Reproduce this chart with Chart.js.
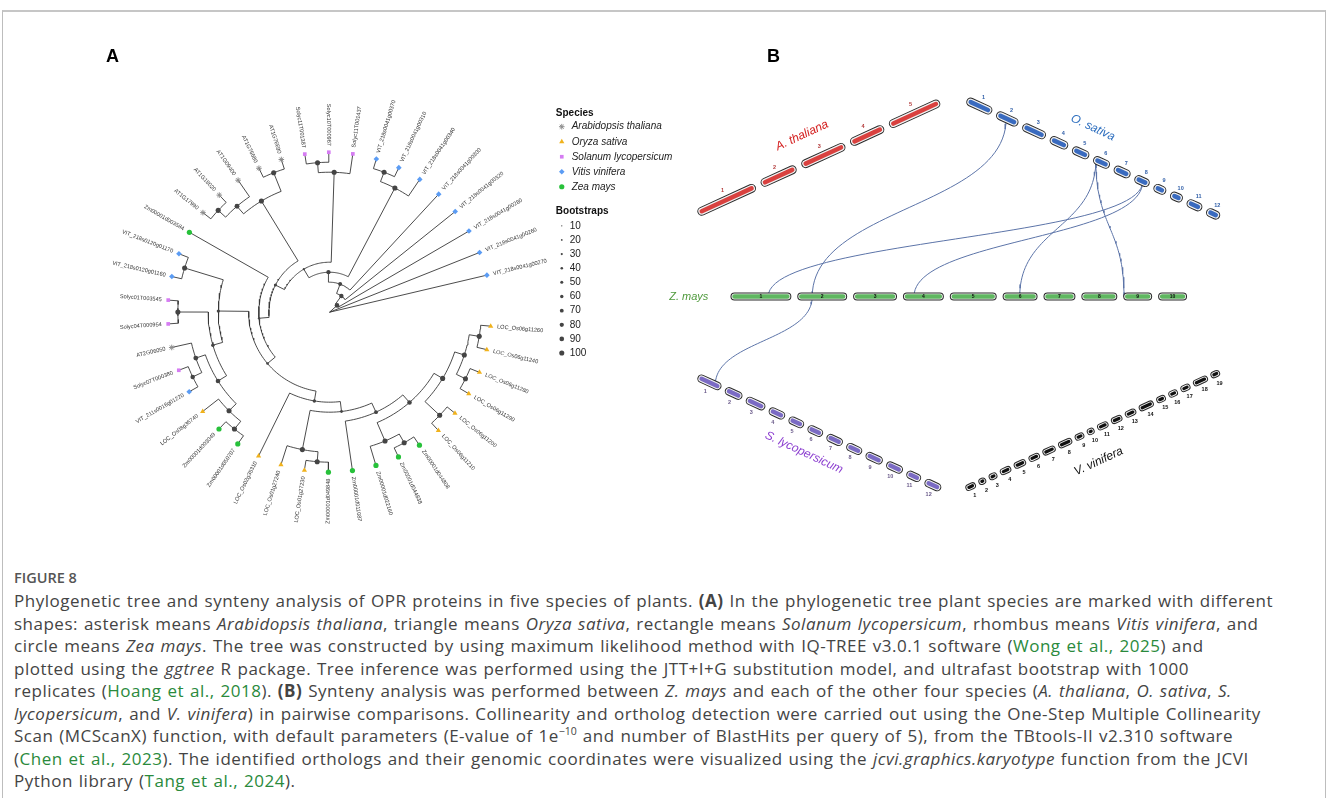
<!DOCTYPE html>
<html>
<head>
<meta charset="utf-8">
<title>Figure 8</title>
<script src="https://cdn.jsdelivr.net/npm/chart.js@4.4.1/dist/chart.umd.min.js"></script>
<style>
  html, body { margin: 0; padding: 0; background: #fff; }
  body { width: 1328px; height: 798px; position: relative; overflow: hidden; font-family: "Open Sans", sans-serif; }
  .frame { position: absolute; left: 2px; top: 10px; width: 1324px; height: 900px; box-sizing: border-box;
           border: 1px solid #bdbdbd; border-top: 2px solid #c6c6c6; }
  #fig { position: absolute; left: 0; top: 0; }
  .panel { position: absolute; font: bold 18px "Liberation Sans", Arial, sans-serif; line-height: 18px; color: #000; }
  .caption { position: absolute; left: 14px; top: 566px; color: #444; }
  .fig-no { font-size: 14.5px; font-weight: 600; line-height: 24px; color: #555; }
  .cap-text { font-size: 17px; line-height: 22.5px; letter-spacing: 0.5px; word-spacing: 1px; white-space: nowrap; }
  .cap-text a { color: #2a8a3c; text-decoration: none; }
  .cap-text b { font-weight: 700; }
  .cap-text sup { font-size: 10.5px; line-height: 0; letter-spacing: 0; }
</style>
</head>
<body>
<div class="frame"></div>
<canvas id="fig" width="1328" height="540"></canvas>
<div class="panel" style="left:106px; top:47px;">A</div>
<div class="panel" style="left:767px; top:47px;">B</div>
<div class="caption">
  <div class="fig-no">FIGURE 8</div>
  <div class="cap-text">
    Phylogenetic tree and synteny analysis of OPR proteins in five species of plants. <b>(A)</b> In the phylogenetic tree plant species are marked with different<br>
    shapes: asterisk means <i>Arabidopsis thaliana</i>, triangle means <i>Oryza sativa</i>, rectangle means <i>Solanum lycopersicum</i>, rhombus means <i>Vitis vinifera</i>, and<br>
    circle means <i>Zea mays</i>. The tree was constructed by using maximum likelihood method with IQ-TREE v3.0.1 software (<a>Wong et al., 2025</a>) and<br>
    plotted using the <i>ggtree</i> R package. Tree inference was performed using the JTT+I+G substitution model, and ultrafast bootstrap with 1000<br>
    replicates (<a>Hoang et al., 2018</a>). <b>(B)</b> Synteny analysis was performed between <i>Z. mays</i> and each of the other four species (<i>A. thaliana</i>, <i>O. sativa</i>, <i>S.</i><br>
    <i>lycopersicum</i>, and <i>V. vinifera</i>) in pairwise comparisons. Collinearity and ortholog detection were carried out using the One-Step Multiple Collinearity<br>
    Scan (MCScanX) function, with default parameters (E-value of 1e<sup>−10</sup> and number of BlastHits per query of 5), from the TBtools-II v2.310 software<br>
    (<a>Chen et al., 2023</a>). The identified orthologs and their genomic coordinates were visualized using the <i>jcvi.graphics.karyotype</i> function from the JCVI<br>
    Python library (<a>Tang et al., 2024</a>).
  </div>
</div>

<script>
// --- Tree tips, in circular order (counter-clockwise from the right) ---
const tipNames = [
  'VIT_218s0041g00270', 'VIT_218s0041g00260', 'VIT_218s0041g00280', 'VIT_218s0041g00320', 'VIT_218s0041g00300',
  'VIT_218s0041g00340', 'VIT_218s0041g00310', 'VIT_218s0041g00370',
  'Solyc11T001437', 'Solyc10T000967', 'Solyc11T001387',
  'AT1G76690', 'AT1G76680', 'AT1G09400', 'AT1G18020', 'AT1G17990',
  'Zm00001d003584',
  'VIT_218s0120g01170', 'VIT_218s0120g01160',
  'Solyc01T003545', 'Solyc04T000954',
  'AT2G06050', 'Solyc07T000380', 'VIT_211s0016g01220',
  'LOC_Os08g35740', 'Zm00001d003049', 'Zm00001d050707',
  'LOC_Os02g35310', 'LOC_Os01g27240', 'LOC_Os01g27230', 'Zm00001d049848', 'Zm00001d011087',
  'Zm00001d022160', 'Zm00001d044838', 'Zm00001d044808',
  'LOC_Os06g11210', 'LOC_Os06g11200', 'LOC_Os06g11290', 'LOC_Os06g11280', 'LOC_Os06g11240', 'LOC_Os06g11260'
];
const tipSpecies = [
  'V', 'V', 'V', 'V', 'V', 'V', 'V', 'V',
  'S', 'S', 'S',
  'A', 'A', 'A', 'A', 'A',
  'Z',
  'V', 'V',
  'S', 'S',
  'A', 'S', 'V',
  'O', 'Z', 'Z',
  'O', 'O', 'O', 'Z', 'Z',
  'Z', 'Z', 'Z',
  'O', 'O', 'O', 'O', 'O', 'O'
];

// internal nodes: [id, children (tip index or node id), depth level (root 0, tips 16), bootstrap]
const treeNodes = [
  ['s1', [9, 10], 15, 100],
  ['s2', [8, 's1'], 14, 100],
  ['v1', [6, 7], 15, 98],
  ['v2', [5, 'v1'], 14, 100],
  ['t1', [11, 12], 15, 100],
  ['t2', [14, 15], 15, 100],
  ['t3', [13, 't2'], 14, 96],
  ['t4', ['t1', 't3'], 13, 100],
  ['u1', [17, 18], 15, 100],
  ['u2', [19, 20], 15, 100],
  ['u3', [22, 23], 15, 86],
  ['u4', [21, 'u3'], 14, 95],
  ['u5', [25, 26], 15, 100],
  ['u6', [24, 'u5'], 14, 100],
  ['u7', ['u4', 'u6'], 13, 90],
  ['u8', ['u2', 'u7'], 12, 62],
  ['u9', ['u1', 'u8'], 11, 55],
  ['w1', [29, 30], 15, 100],
  ['w2', [28, 'w1'], 14, 100],
  ['w3', [33, 34], 15, 100],
  ['w4', [32, 'w3'], 14, 100],
  ['w5', [35, 36], 15, 100],
  ['w6', [37, 38], 15, 100],
  ['w7', [39, 40], 15, 100],
  ['w8', ['w6', 'w7'], 14, 100],
  ['w9', ['w5', 'w8'], 13, 100],
  ['w10', ['w4', 'w9'], 12, 88],
  ['w11', [31, 'w10'], 11, 70],
  ['w12', ['w2', 'w11'], 10, 45],
  ['w13', [27, 'w12'], 9, 60],
  ['r8', ['u9', 'w13'], 8, 40],
  ['r7', [16, 'r8'], 7, 35],
  ['r6', ['t4', 'r7'], 6, 52],
  ['r5', ['s2', 'r6'], 5, 30],
  ['r4', ['v2', 'r5'], 4, 80],
  ['r3', [4, 'r4'], 3, 75],
  ['r2', [3, 'r3'], 2, 85],
  ['r1', [2, 'r2'], 1, 90],
  ['root', [0, 1, 'r1'], 0, 0]
];

const speciesCodes = ['A', 'O', 'S', 'V', 'Z'];
const speciesNames = ['Arabidopsis thaliana', 'Oryza sativa', 'Solanum lycopersicum', 'Vitis vinifera', 'Zea mays'];
const bootstrapBreaks = [10, 20, 30, 40, 50, 60, 70, 80, 90, 100];

// --- Karyotype data: relative chromosome lengths ---
const athChrLengths = [64, 39, 48, 37, 56];
const osaChrLengths = [28, 24, 25.5, 19.7, 18.4, 17.9, 17.9, 16.2, 13.4, 13.4, 16.6, 14.8];
const zmaChrLengths = [61, 50, 44, 41, 47, 35, 32, 36, 29, 29];
const slyChrLengths = [26, 18.8, 21, 17.5, 16.6, 16.6, 17.5, 17, 18.4, 17.9, 15.7, 17.9];
const vviChrLengths = [11, 8, 9, 12, 13, 12, 14, 15, 10, 8, 12, 12, 12, 16, 10, 10, 10.5, 16, 10];

// collinear gene pairs: [genome, chromosome, relative position, genome, chromosome, relative position]
const linkPairs = [
  ['osa', 2, 0.45, 'zma', 2, 0.30],
  ['osa', 8, 0.55, 'zma', 1, 0.62],
  ['osa', 8, 0.55, 'zma', 4, 0.27],
  ['osa', 6, 0.15, 'zma', 6, 0.49],
  ['osa', 6, 0.15, 'zma', 9, 0.03],
  ['zma', 2, 0.30, 'sly', 1, 0.75]
];

// --- layout / style ---
const W = 1328, H = 540;
const TREE_CX = 327, TREE_CY = 313, TIP_R = 163, TREE_LEVELS = 16;
const TIP_START = 13.4, TIP_STEP = 8.54;

const speciesStyle = {
  A: { pointStyle: 'star', color: '#8c8c8c', radius: 2.8 },
  O: { pointStyle: 'triangle', color: '#f0b21c', radius: 3 },
  S: { pointStyle: 'rect', color: '#d57cf2', radius: 2.6 },
  V: { pointStyle: 'rectRot', color: '#5b9cf4', radius: 2.8 },
  Z: { pointStyle: 'circle', color: '#27c13a', radius: 2.6 }
};
const LEG_X = 561, LEG_SP_Y = 124, LEG_SP_STEP = 15.3, LEG_BS_Y = 225, LEG_BS_STEP = 14.4;
const bootRadius = v => 0.45 + v / 100 * 2.1;

const karyoTracks = [
  { key: 'ath', lengths: athChrLengths, from: [698, 212], to: [942, 99], gap: 6, thick: 9, band: 4.6, color: '#d9413f',
    numColor: '#b33a3a', numSide: -1, name: 'A. thaliana', nameAt: [803, 133], nameColor: '#d42020', nameSize: 12 },
  { key: 'osa', lengths: osaChrLengths, from: [969, 97], to: [1224, 216], gap: 5, thick: 9, band: 4.6, color: '#3a6bbf',
    numColor: '#2f5ea8', numSide: -1, name: 'O. sativa', nameAt: [1096, 125], nameColor: '#2e6fbf', nameSize: 12 },
  { key: 'zma', lengths: zmaChrLengths, from: [731, 297], to: [1191, 297], gap: 6, thick: 8, band: 4.4, color: '#5fb760',
    numColor: '#111', numSide: 0, name: 'Z. mays', nameAt: [689, 297], nameColor: '#4f9a3c', nameSize: 11 },
  { key: 'sly', lengths: slyChrLengths, from: [698, 379], to: [943, 493], gap: 4.5, thick: 8.5, band: 4.4, color: '#7b6bc4',
    numColor: '#6a5a8a', numSide: 1, name: 'S. lycopersicum', nameAt: [805, 456], nameColor: '#8c3fd0', nameSize: 12 },
  { key: 'vvi', lengths: vviChrLengths, from: [968, 493], to: [1224, 374], gap: 3.4, thick: 7, band: 3.2, color: '#111',
    numColor: '#111', numSide: 1, name: 'V. vinifera', nameAt: [1102, 465], nameColor: '#111', nameSize: 12 }
];

// --- tree layout (circular cladogram) ---
const tipAngle = tipNames.map((_, i) => TIP_START + i * TIP_STEP);
const nodeAngle = {}, nodeRadius = {};
const childAngle = c => typeof c === 'number' ? tipAngle[c] : nodeAngle[c];
const childRadius = c => typeof c === 'number' ? TIP_R : nodeRadius[c];
treeNodes.forEach(([id, kids, depth]) => {
  nodeAngle[id] = kids.reduce((s, c) => s + childAngle(c), 0) / kids.length;
  nodeRadius[id] = depth / TREE_LEVELS * TIP_R;
});

function polar(deg, r) {
  const a = deg * Math.PI / 180;
  return { x: TREE_CX + r * Math.cos(a), y: TREE_CY - r * Math.sin(a) };
}
const GAP = { x: null, y: null };

const branchPts = [];
treeNodes.forEach(([id, kids]) => {
  const r = nodeRadius[id];
  const angs = kids.map(childAngle);
  const a0 = Math.min(...angs), a1 = Math.max(...angs);
  if (r > 0) {
    const n = Math.max(2, Math.ceil((a1 - a0) / 1.5));
    for (let k = 0; k <= n; k++) branchPts.push(polar(a0 + (a1 - a0) * k / n, r));
    branchPts.push(GAP);
  }
  kids.forEach(c => {
    branchPts.push(polar(childAngle(c), r), polar(childAngle(c), childRadius(c)), GAP);
  });
});

const bootPts = treeNodes.filter(n => n[2] > 0).map(n => polar(nodeAngle[n[0]], nodeRadius[n[0]]));
const bootSizes = treeNodes.filter(n => n[2] > 0).map(n => bootRadius(n[3]));

// --- karyotype layout ---
const trackByKey = {};
karyoTracks.forEach(t => {
  const dx = t.to[0] - t.from[0], dy = t.to[1] - t.from[1];
  const len = Math.hypot(dx, dy);
  t.ux = dx / len; t.uy = dy / len;
  // normal that points up the page
  t.nx = t.uy; t.ny = -t.ux;
  if (t.ny > 0) { t.nx = -t.nx; t.ny = -t.ny; }
  const total = t.lengths.reduce((a, b) => a + b, 0);
  const k = (len - t.gap * (t.lengths.length - 1)) / total;
  let s = 0;
  t.chroms = t.lengths.map(L => { const c = { s, e: s + L * k }; s = c.e + t.gap; return c; });
  trackByKey[t.key] = t;
});
const along = (t, d) => ({ x: t.from[0] + t.ux * d, y: t.from[1] + t.uy * d });

// one polyline per chromosome body; round caps give the rounded ends
const chrSets = karyoTracks.map(t => {
  const pts = [];
  t.chroms.forEach(c => {
    let a = c.s + t.thick / 2, b = c.e - t.thick / 2;
    if (b - a < 0.6) { const m = (c.s + c.e) / 2; a = m - 0.3; b = m + 0.3; }
    pts.push(along(t, a), along(t, b), GAP);
  });
  return { t, pts };
});

const linkPts = [];
linkPairs.forEach(([g1, c1, f1, g2, c2, f2]) => {
  const t1 = trackByKey[g1], t2 = trackByKey[g2];
  const ch1 = t1.chroms[c1 - 1], ch2 = t2.chroms[c2 - 1];
  const p0 = along(t1, ch1.s + f1 * (ch1.e - ch1.s));
  const p3 = along(t2, ch2.s + f2 * (ch2.e - ch2.s));
  const ym = (p0.y + p3.y) / 2;
  for (let i = 0; i <= 48; i++) {
    const t = i / 48, u = 1 - t;
    linkPts.push({
      x: u * u * u * p0.x + 3 * u * u * t * p0.x + 3 * u * t * t * p3.x + t * t * t * p3.x,
      y: u * u * u * p0.y + 3 * u * u * t * ym + 3 * u * t * t * ym + t * t * t * p3.y
    });
  }
  linkPts.push(GAP);
});

// --- datasets ---
const lineSet = (data, color, width, order, extra) => Object.assign({
  data, showLine: true, borderColor: color, borderWidth: width, pointRadius: 0,
  borderCapStyle: 'round', borderJoinStyle: 'round', fill: false, order
}, extra || {});

const datasets = [
  lineSet(linkPts, '#5c74a8', 1, 20),
  ...chrSets.map(c => lineSet(c.pts, '#2b2b2b', c.t.thick, 19)),
  ...chrSets.map(c => lineSet(c.pts, '#f2f2f2', c.t.thick - 2, 18)),
  ...chrSets.map(c => lineSet(c.pts, c.t.color, c.t.band, 17)),
  lineSet(branchPts, '#383838', 0.9, 10, { borderCapStyle: 'butt' }),
  { data: bootPts, pointRadius: bootSizes, pointBackgroundColor: '#444', pointBorderWidth: 0, showLine: false, order: 5 },
  { data: bootstrapBreaks.map((v, i) => ({ x: LEG_X, y: LEG_BS_Y + i * LEG_BS_STEP })),
    pointRadius: bootstrapBreaks.map(bootRadius), pointBackgroundColor: '#444', pointBorderWidth: 0, showLine: false, order: 5 }
];
speciesCodes.forEach((code, k) => {
  const st = speciesStyle[code];
  const pts = tipNames.map((_, i) => i).filter(i => tipSpecies[i] === code).map(i => polar(tipAngle[i], TIP_R));
  pts.push({ x: LEG_X, y: LEG_SP_Y + k * LEG_SP_STEP });
  datasets.push({
    data: pts, showLine: false, pointStyle: st.pointStyle, pointRadius: st.radius,
    pointBackgroundColor: st.color, pointBorderColor: st.color,
    pointBorderWidth: st.pointStyle === 'star' ? 1 : 0, order: 1
  });
});

// --- text layer: tip labels, legend, chromosome numbers, genome names ---
const textLayer = {
  id: 'textLayer',
  afterDatasetsDraw(chart) {
    const { ctx, scales: { x, y } } = chart;
    const put = (str, px, py, font, color, align, rot) => {
      ctx.save();
      ctx.translate(x.getPixelForValue(px), y.getPixelForValue(py));
      if (rot) ctx.rotate(rot * Math.PI / 180);
      ctx.font = font; ctx.fillStyle = color;
      ctx.textAlign = align || 'left'; ctx.textBaseline = 'middle';
      ctx.fillText(str, 0, 0);
      ctx.restore();
    };
    const sans = '"Liberation Sans", Arial, sans-serif';

    tipNames.forEach((name, i) => {
      const a = tipAngle[i];
      const p = polar(a, TIP_R + 6.5);
      const flip = a > 90 && a < 270;
      put(name, p.x, p.y, '5.6px ' + sans, '#333', flip ? 'right' : 'left', flip ? 180 - a : -a);
    });

    put('Species', 555, 110, 'bold 10px ' + sans, '#111');
    speciesNames.forEach((s, k) => put(s, 571, LEG_SP_Y + k * LEG_SP_STEP, 'italic 10px ' + sans, '#222'));
    put('Bootstraps', 555, 210, 'bold 10px ' + sans, '#111');
    bootstrapBreaks.forEach((v, k) => put(String(v), 569, LEG_BS_Y + k * LEG_BS_STEP, '10px ' + sans, '#222'));

    karyoTracks.forEach(t => {
      const ang = Math.atan2(t.uy, t.ux) * 180 / Math.PI;
      t.chroms.forEach((c, i) => {
        const m = along(t, (c.s + c.e) / 2);
        if (t.numSide === 0) {
          put(String(i + 1), m.x, m.y + 0.5, 'bold 5px ' + sans, t.numColor, 'center');
        } else {
          const off = t.numSide < 0 ? 10 : -10;
          put(String(i + 1), m.x + t.nx * off, m.y + t.ny * off, 'bold 5.5px ' + sans, t.numColor, 'center');
        }
      });
      put(t.name, t.nameAt[0], t.nameAt[1], 'italic ' + t.nameSize + 'px ' + sans, t.nameColor, 'center',
        t.numSide === 0 ? 0 : ang);
    });
  }
};

new Chart(document.getElementById('fig'), {
  type: 'scatter',
  data: { datasets },
  options: {
    responsive: false,
    animation: false,
    devicePixelRatio: 1,
    events: [],
    layout: { padding: 0 },
    plugins: { legend: { display: false }, tooltip: { enabled: false } },
    scales: {
      x: { type: 'linear', min: 0, max: W, display: false },
      y: { type: 'linear', min: 0, max: H, reverse: true, display: false }
    }
  },
  plugins: [textLayer]
});
</script>
</body>
</html>
